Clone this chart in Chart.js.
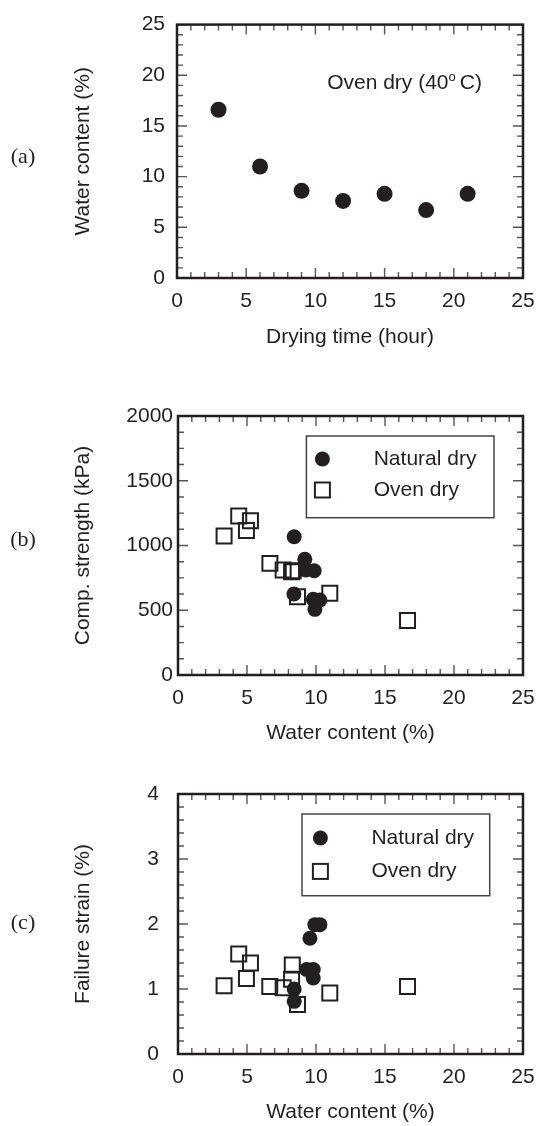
<!DOCTYPE html>
<html>
<head>
<meta charset="utf-8">
<script src="https://cdn.jsdelivr.net/npm/chart.js@4.4.0/dist/chart.umd.min.js"></script>
<style>
html,body{margin:0;background:#fff;overflow:hidden;}
#wrap{position:relative;width:542px;height:1126px;}
canvas{position:absolute;left:0;}
</style>
</head>
<body>
<div id="wrap">
<canvas id="chartA" width="542" height="360" style="top:0"></canvas>
<canvas id="chartB" width="542" height="370" style="top:380px"></canvas>
<canvas id="chartC" width="542" height="366" style="top:760px"></canvas>
</div>
<script>
// (a) water content during oven drying
var dryingTime = [3, 6, 9, 12, 15, 18, 21];
var waterContentA = [16.6, 11.0, 8.6, 7.6, 8.3, 6.7, 8.3];

// (b) compressive strength vs water content
var naturalWaterB = [8.42, 9.19, 9.26, 9.87, 8.40, 9.80, 10.28, 9.92];
var naturalStrength = [1068, 893, 811, 805, 625, 584, 579, 507];
var ovenWaterB = [3.34, 4.40, 5.25, 4.96, 6.66, 7.62, 8.23, 8.35, 8.66, 11.0, 16.63];
var ovenStrength = [1073, 1228, 1192, 1115, 862, 810, 798, 805, 604, 631, 420];

// (c) failure strain vs water content
var naturalWaterC = [9.92, 10.28, 9.56, 9.32, 9.80, 9.80, 8.42, 8.42];
var naturalStrain = [1.99, 1.99, 1.78, 1.30, 1.30, 1.17, 1.00, 0.81];
var ovenWaterC = [3.34, 4.40, 5.25, 4.96, 6.65, 7.62, 8.28, 8.23, 8.66, 11.0, 16.63];
var ovenStrain = [1.05, 1.54, 1.40, 1.16, 1.04, 1.02, 1.37, 1.15, 0.76, 0.94, 1.04];

var seriesNames = ['Natural dry', 'Oven dry'];
var panelTags = ['(a)', '(b)', '(c)'];

var ink = '#231f20';
var sans = 'Liberation Sans, Arial, sans-serif';

function pts(xs, ys) {
  var out = [];
  for (var i = 0; i < xs.length; i++) out.push({x: xs[i], y: ys[i]});
  return out;
}

// frame + inward ticks on all four sides
var frameTicks = {
  id: 'frameTicks',
  afterDatasetsDraw: function(chart, args, o) {
    var ctx = chart.ctx, a = chart.chartArea;
    ctx.save();
    ctx.strokeStyle = '#555';
    ctx.lineWidth = 1.4;
    ['x', 'y'].forEach(function(k) {
      var s = chart.scales[k];
      var minor = o[k + 'Minor'], major = s.options.ticks.stepSize;
      var n = Math.round((s.max - s.min) / minor);
      for (var i = 0; i <= n; i++) {
        var v = s.min + i * minor;
        var r = v / major;
        var len = Math.abs(r - Math.round(r)) < 1e-6 ? 10 : 6;
        var p = s.getPixelForValue(v);
        ctx.beginPath();
        if (k === 'x') {
          ctx.moveTo(p, a.bottom); ctx.lineTo(p, a.bottom - len);
          ctx.moveTo(p, a.top); ctx.lineTo(p, a.top + len);
        } else {
          ctx.moveTo(a.left, p); ctx.lineTo(a.left + len, p);
          ctx.moveTo(a.right, p); ctx.lineTo(a.right - len, p);
        }
        ctx.stroke();
      }
    });
    ctx.strokeStyle = ink;
    ctx.lineWidth = 2.5;
    ctx.strokeRect(a.left, a.top, a.right - a.left, a.bottom - a.top);
    // panel tag
    ctx.fillStyle = ink;
    ctx.font = '22px Liberation Serif, Times New Roman, serif';
    ctx.textAlign = 'center';
    ctx.textBaseline = 'middle';
    ctx.fillText(o.tag, 23, o.tagY);
    ctx.restore();
  }
};

// boxed legend inside the plot area
var boxLegend = {
  id: 'boxLegend',
  afterDatasetsDraw: function(chart, args, o) {
    if (!o.show) return;
    var ctx = chart.ctx, a = chart.chartArea;
    var bx = a.left + o.left, by = a.top + o.top;
    ctx.save();
    ctx.fillStyle = '#fff';
    ctx.fillRect(bx, by, o.w, o.h);
    ctx.strokeStyle = '#444';
    ctx.lineWidth = 1.5;
    ctx.strokeRect(bx, by, o.w, o.h);
    ctx.font = '21px ' + sans;
    ctx.textBaseline = 'middle';
    ctx.textAlign = 'left';
    chart.data.datasets.forEach(function(ds, i) {
      var mx = bx + o.markX, my = by + o.rows[i];
      ctx.fillStyle = ink;
      ctx.strokeStyle = ink;
      if (ds.pointStyle === 'circle') {
        ctx.beginPath();
        ctx.arc(mx, my, 7.5, 0, Math.PI * 2);
        ctx.fill();
      } else {
        ctx.lineWidth = 2;
        ctx.strokeRect(mx - 7.5, my - 7.5, 15, 15);
      }
      ctx.fillText(ds.label, bx + o.textX, my);
    });
    ctx.restore();
  }
};

// "Oven dry (40°C)" note for panel (a)
var noteText = {
  id: 'noteText',
  afterDatasetsDraw: function(chart, args, o) {
    if (!o.show) return;
    var ctx = chart.ctx;
    var x = chart.scales.x.getPixelForValue(o.x);
    var y = chart.scales.y.getPixelForValue(o.y);
    ctx.save();
    ctx.fillStyle = ink;
    ctx.textBaseline = 'alphabetic';
    ctx.textAlign = 'left';
    ctx.font = '21px ' + sans;
    var t1 = 'Oven dry (40';
    ctx.fillText(t1, x, y);
    x += ctx.measureText(t1).width;
    ctx.font = '13px ' + sans;
    ctx.fillText('o', x, y - 8);
    x += ctx.measureText('o').width + 4;
    ctx.font = '21px ' + sans;
    ctx.fillText('C)', x, y);
    ctx.restore();
  }
};

function plain(v) { return String(v); }

function makePanel(id, p) {
  var datasets = [];
  if (p.natural) {
    datasets.push({
      label: seriesNames[0], data: p.natural, pointStyle: 'circle',
      pointRadius: p.dotR, pointHoverRadius: p.dotR,
      backgroundColor: ink, borderWidth: 0
    });
  }
  if (p.oven) {
    datasets.push({
      label: seriesNames[1], data: p.oven, pointStyle: 'rect',
      pointRadius: 10.6, pointHoverRadius: 10.6,
      backgroundColor: 'rgba(0,0,0,0)', borderColor: ink, borderWidth: 2
    });
  }
  return new Chart(document.getElementById(id), {
    type: 'scatter',
    data: {datasets: datasets},
    options: {
      responsive: false,
      animation: false,
      events: [],
      layout: {padding: {top: p.top, right: 19, left: 0, bottom: 0}},
      scales: {
        x: {
          type: 'linear', min: 0, max: 25,
          grid: {display: false, drawTicks: false}, border: {display: false},
          // small padding keeps the last label from shrinking the plot; line height pushes labels down
          ticks: {stepSize: 5, padding: 7, color: ink, font: {family: sans, size: 21, lineHeight: 1.5}, maxRotation: 0, callback: plain},
          title: {display: true, text: p.xTitle, color: ink, font: {family: sans, size: 21}, padding: {top: 0, bottom: p.xTitlePad}},
          afterFit: function(s) { s.height = p.xH; }
        },
        y: {
          type: 'linear', min: p.yMin, max: p.yMax,
          grid: {display: false, drawTicks: false}, border: {display: false},
          ticks: {stepSize: p.yStep, padding: p.yPad, color: ink, font: {family: sans, size: 21}, callback: plain},
          title: {display: true, text: p.yTitle, color: ink, font: {family: sans, size: 21}, padding: {top: 71, bottom: 0}},
          afterFit: function(s) { s.width = p.yW; }
        }
      },
      plugins: {
        legend: {display: false},
        tooltip: {enabled: false},
        frameTicks: {xMinor: 1, yMinor: p.yMinor, tag: p.tag, tagY: p.tagY},
        boxLegend: p.legend || {show: false},
        noteText: p.note || {show: false}
      }
    },
    plugins: [frameTicks, boxLegend, noteText]
  });
}

makePanel('chartA', {
  natural: pts(dryingTime, waterContentA), dotR: 8,
  top: 19, xH: 82, yW: 177, xTitlePad: 10, yPad: 12,
  yMin: 0, yMax: 25, yStep: 5, yMinor: 1,
  xTitle: 'Drying time (hour)', yTitle: 'Water content (%)',
  tag: panelTags[0], tagY: 157,
  note: {show: true, x: 10.85, y: 18.6}
});

makePanel('chartB', {
  natural: pts(naturalWaterB, naturalStrength), oven: pts(ovenWaterB, ovenStrength), dotR: 7.5,
  top: 36, xH: 75, yW: 178, xTitlePad: 4, yPad: 5,
  yMin: 0, yMax: 2000, yStep: 500, yMinor: 125,
  xTitle: 'Water content (%)', yTitle: 'Comp. strength (kPa)',
  tag: panelTags[1], tagY: 160,
  legend: {show: true, left: 128.4, top: 20, w: 187.6, h: 81.7, markX: 16, textX: 67.3, rows: [23, 54]}
});

makePanel('chartC', {
  natural: pts(naturalWaterC, naturalStrain), oven: pts(ovenWaterC, ovenStrain), dotR: 7.5,
  top: 34, xH: 72, yW: 178, xTitlePad: 1, yPad: 19,
  yMin: 0, yMax: 4, yStep: 1, yMinor: 0.2,
  xTitle: 'Water content (%)', yTitle: 'Failure strain (%)',
  tag: panelTags[2], tagY: 163,
  legend: {show: true, left: 124, top: 20, w: 187.7, h: 81.7, markX: 18.4, textX: 69.4, rows: [24, 57.4]}
});
</script>
</body>
</html>
